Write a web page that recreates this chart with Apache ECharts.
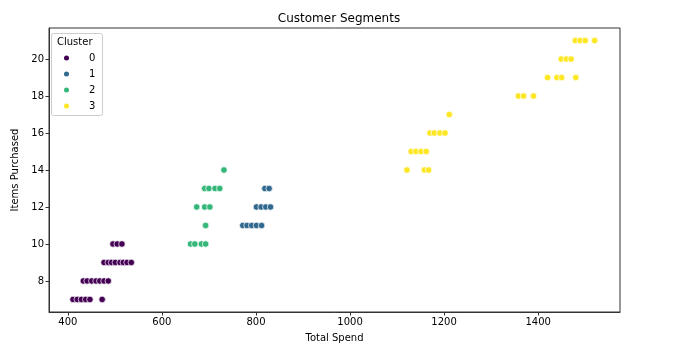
<!DOCTYPE html>
<html>
<head>
<meta charset="utf-8">
<script src="https://cdn.jsdelivr.net/npm/echarts@6/dist/echarts.min.js"></script>
<style>
  html, body { margin: 0; padding: 0; background: #fff; }
  #chart { width: 680px; height: 354px; }
</style>
</head>
<body>
<div id="chart"></div>
<script>
// values, one pair of arrays per cluster
var spend0 = [411, 420, 429, 438, 447, 473, 433, 441, 451, 460, 468, 477, 486, 477, 486, 493, 501, 511, 518, 526, 535, 496, 505, 515]
var items0 = [7, 7, 7, 7, 7, 7, 8, 8, 8, 8, 8, 8, 8, 9, 9, 9, 9, 9, 9, 9, 9, 10, 10, 10]
var spend1 = [772, 781, 791, 801, 812, 801, 811, 821, 831, 819, 828]
var items1 = [11, 11, 11, 11, 11, 12, 12, 12, 12, 13, 13]
var spend2 = [661, 670, 684, 693, 693, 674, 691, 702, 691, 700, 713, 723, 732]
var items2 = [10, 10, 10, 10, 11, 12, 12, 12, 13, 13, 13, 13, 14]
var spend3 = [1121, 1158, 1167, 1130, 1140, 1151, 1162, 1170, 1179, 1191, 1202, 1211, 1358, 1369, 1390, 1420, 1440, 1450, 1480, 1449, 1460, 1470, 1479, 1489, 1500, 1520]
var items3 = [14, 14, 14, 15, 15, 15, 15, 16, 16, 16, 16, 17, 18, 18, 18, 19, 19, 19, 19, 20, 20, 20, 21, 21, 21, 21]

var clusterNames = ['0', '1', '2', '3']
var clusterColors = ['#440154', '#31688e', '#35b779', '#fde725']
var xTicks = [400, 600, 800, 1000, 1200, 1400]
var yTicks = [8, 10, 12, 14, 16, 18, 20]

var spends = [spend0, spend1, spend2, spend3]
var items = [items0, items1, items2, items3]

var font = 'DejaVu Sans'
var chart = echarts.init(document.getElementById('chart'))

var series = clusterNames.map(function (name, k) {
  return {
    name: name,
    type: 'scatter',
    symbolSize: 6.5,
    data: spends[k].map(function (v, i) { return [v, items[k][i]] }),
    itemStyle: { color: clusterColors[k], opacity: 1, borderColor: '#fff', borderWidth: 0.7 }
  }
})

chart.setOption({
  animation: false,
  title: {
    text: 'Customer Segments',
    left: 334, top: 8, textAlign: 'center',
    textStyle: { fontFamily: font, fontSize: 12, fontWeight: 'normal', color: '#000' }
  },
  grid: {
    left: 49, right: 60, top: 28, bottom: 42,
    show: true, borderColor: '#333', borderWidth: 1, backgroundColor: '#fff'
  },
  legend: {
    orient: 'vertical',
    left: 57, top: 47,
    itemWidth: 7, itemHeight: 7, itemGap: 4,
    icon: 'circle',
    data: clusterNames,
    textStyle: { fontFamily: font, fontSize: 10, color: '#000', lineHeight: 12, padding: [0, 0, 0, 14] }
  },
  graphic: [
    {
      type: 'rect', left: 51, top: 33, z: 0,
      shape: { width: 51, height: 82, r: 2 },
      style: { fill: 'rgba(255,255,255,0.8)', stroke: '#ccc', lineWidth: 1 }
    },
    {
      type: 'text', left: 57, top: 37, z: 10,
      style: { text: 'Cluster', fontFamily: font, fontSize: 10, fill: '#000' }
    }
  ],
  xAxis: {
    type: 'value', min: 360, max: 1574,
    name: 'Total Spend', nameLocation: 'middle', nameGap: 21,
    nameTextStyle: { fontFamily: font, fontSize: 10, color: '#000' },
    splitLine: { show: false },
    axisLine: { show: true, onZero: false, lineStyle: { color: '#333' } },
    axisTick: { show: true, length: 3.5, customValues: xTicks, lineStyle: { color: '#333' } },
    axisLabel: {
      customValues: xTicks, fontFamily: font, fontSize: 10, color: '#000', margin: 5,
      formatter: function (v) { return String(v) }
    }
  },
  yAxis: {
    type: 'value', min: 6.32, max: 21.68,
    name: 'Items Purchased', nameLocation: 'middle', nameGap: 28,
    nameTextStyle: { fontFamily: font, fontSize: 10, color: '#000' },
    splitLine: { show: false },
    axisLine: { show: true, onZero: false, lineStyle: { color: '#333' } },
    axisTick: { show: true, length: 3.5, customValues: yTicks, lineStyle: { color: '#333' } },
    axisLabel: {
      customValues: yTicks, fontFamily: font, fontSize: 10, color: '#000', margin: 5,
      formatter: function (v) { return String(v) }
    }
  },
  series: series
})
</script>
</body>
</html>
